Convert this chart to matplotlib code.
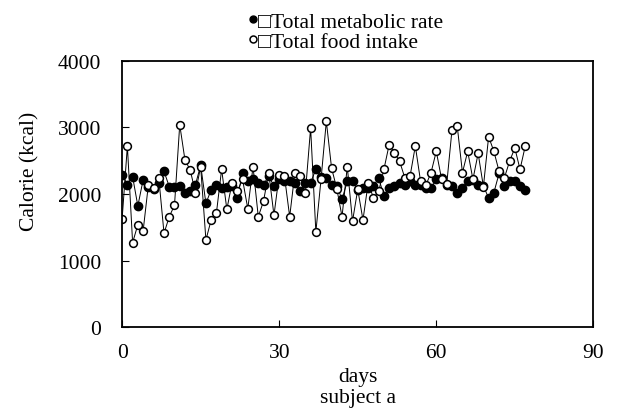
import numpy as np
import matplotlib
matplotlib.use("Agg")
import matplotlib.pyplot as plt
from matplotlib.lines import Line2D

plt.rcParams['font.family'] = ['Liberation Serif', 'DejaVu Sans']
plt.rcParams['font.size'] = 15.5

# daily values, subject a
days = list(range(78))
metabolic = [2290, 2140, 2260, 1820, 2210, 2110, 2080, 2170, 2340, 2110,
             2110, 2120, 2020, 2040, 2140, 2430, 1860, 2060, 2130, 2090,
             2100, 2120, 1940, 2320, 2190, 2220, 2170, 2140, 2270, 2120,
             2220, 2200, 2190, 2170, 2040, 2170, 2170, 2370, 2260, 2240,
             2140, 2120, 1920, 2190, 2190, 2060, 2090, 2090, 2120, 2240,
             1970, 2090, 2120, 2170, 2140, 2190, 2140, 2140, 2090, 2090,
             2220, 2240, 2140, 2120, 2020, 2090, 2190, 2210, 2140, 2120,
             1940, 2020, 2310, 2120, 2190, 2200, 2120, 2060]
food = [1630, 2720, 1270, 1540, 1440, 2130, 2090, 2240, 1410, 1660,
        1830, 3040, 2510, 2360, 2020, 2410, 1310, 1610, 1710, 2370,
        1770, 2170, 2040, 2220, 1780, 2410, 1660, 1890, 2320, 1680,
        2290, 2270, 1660, 2320, 2270, 2020, 2990, 1430, 2230, 3090,
        2390, 2080, 1660, 2410, 1590, 2070, 1610, 2170, 1940, 2040,
        2370, 2740, 2620, 2490, 2240, 2270, 2720, 2190, 2130, 2320,
        2640, 2230, 2150, 2960, 3020, 2320, 2640, 2220, 2610, 2110,
        2860, 2640, 2340, 2240, 2490, 2690, 2370, 2720]

fig = plt.figure(figsize=(6.2, 4.14), dpi=100)
ax = fig.add_axes([0.197, 0.207, 0.76, 0.644])

ax.plot(days, metabolic, color="black", lw=0.7, marker="o", ms=6.0,
        mfc="black", mec="black")
ax.plot(days, food, color="black", lw=0.7, marker="o", ms=5.6,
        mfc="white", mec="black", mew=1.1)

ax.set_xlim(0, 90)
ax.set_ylim(0, 4000)
ax.set_xticks([0, 30, 60, 90])
ax.set_yticks([0, 1000, 2000, 3000, 4000])
ax.tick_params(direction="in", length=5, width=0.8, top=False, right=False)
ax.tick_params(axis="x", pad=11)
ax.tick_params(axis="y", pad=15)
for s in ax.spines.values():
    s.set_linewidth(1.3)

ax.set_xlabel("days\nsubject a", labelpad=4, linespacing=1.15)
ax.set_ylabel("Calorie (kcal)")
ax.yaxis.set_label_coords(-0.175, 0.59)

# legend: markers only, no line
handles = [Line2D([], [], ls="none", marker="o", ms=5, mfc="black", mec="black"),
           Line2D([], [], ls="none", marker="o", ms=5, mfc="white", mec="black", mew=1.1)]
labels = ["\u25a1Total metabolic rate", "\u25a1Total food intake"]
ax.legend(handles, labels, loc="upper left", bbox_to_anchor=(0.245, 1.225),
          frameon=False, handlelength=0.4, handletextpad=0.05, borderpad=0,
          labelspacing=0.0)

plt.savefig("out.png", dpi=100)
